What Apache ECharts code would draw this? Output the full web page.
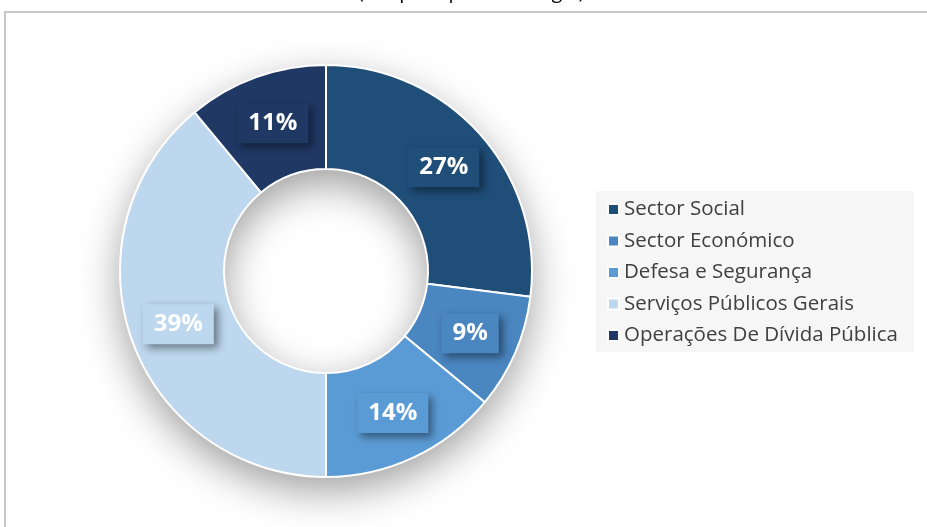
<!DOCTYPE html>
<html>
<head>
<meta charset="utf-8">
<script src="https://cdn.jsdelivr.net/npm/echarts@6/dist/echarts.min.js"></script>
<style>
  html, body { margin: 0; padding: 0; background: #fff; }
  #main { width: 927px; height: 527px; }
</style>
</head>
<body>
<div id="main"></div>
<script>
// categorias e valores (%)
var categories = ['Sector Social', 'Sector Económico', 'Defesa e Segurança', 'Serviços Públicos Gerais', 'Operações De Dívida Pública'];
var values = [27, 9, 14, 39, 11];
var colors = ['#1F4E79', '#4A86C0', '#5B9BD5', '#BDD7EE', '#203864'];

var chart = echarts.init(document.getElementById('main'));

var pieData = categories.map(function (name, i) {
    return {
        name: name,
        value: values[i],
        itemStyle: { color: colors[i] },
        label: { backgroundColor: colors[i] }
    };
});

chart.setOption({
    animation: false,
    color: colors,
    graphic: [
        {
            type: 'rect',
            shape: { x: 5, y: 12, width: 1000, height: 600 },
            style: { fill: 'none', stroke: '#c8c8c8', lineWidth: 2 },
            z: 0
        },
        {
            type: 'text',
            left: 358,
            top: -18,
            style: {
                text: '(Despesa por Estratégia)',
                fill: '#000',
                font: '20px "Open Sans", sans-serif'
            }
        }
    ],
    legend: {
        orient: 'vertical',
        left: 596,
        top: 191,
        padding: [8, 16, 6, 11],
        backgroundColor: '#F6F6F6',
        itemWidth: 11,
        itemHeight: 11,
        itemGap: 10.5,
        icon: 'rect',
        textStyle: {
            color: '#404040',
            fontSize: 20.5,
            fontFamily: 'Open Sans'
        },
        data: categories
    },
    series: [
        {
            // anel de sombra
            type: 'pie',
            silent: true,
            center: [326, 271],
            radius: [102, 206],
            label: { show: false },
            itemStyle: {
                color: '#fff',
                shadowBlur: 40,
                shadowOffsetY: 14,
                shadowColor: 'rgba(0,0,0,0.38)'
            },
            data: [{ name: '', value: 1 }],
            z: 1
        },
        {
            type: 'pie',
            center: [326, 271],
            radius: [102, 206],
            startAngle: 90,
            clockwise: true,
            itemStyle: { borderColor: '#fff', borderWidth: 2 },
            label: {
                show: true,
                position: 'inside',
                formatter: '{c}%',
                color: '#fff',
                fontSize: 24,
                fontWeight: 'bold',
                fontFamily: 'Open Sans',
                padding: [9, 11, 7, 11],
                shadowColor: 'rgba(0,0,0,0.45)',
                shadowBlur: 8,
                shadowOffsetX: 4,
                shadowOffsetY: 4
            },
            labelLine: { show: false },
            data: pieData,
            z: 2
        }
    ]
});
</script>
</body>
</html>
